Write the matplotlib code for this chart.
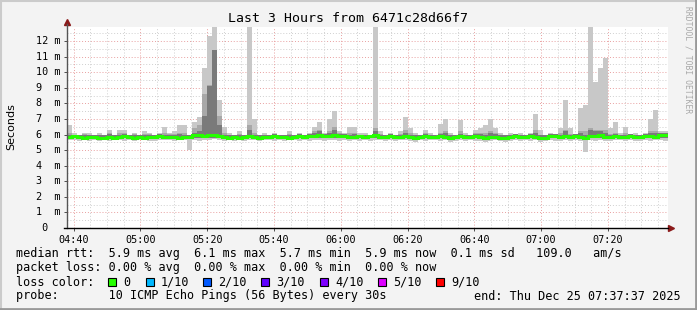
import numpy as np
import matplotlib.pyplot as plt
from matplotlib.patches import Rectangle
from matplotlib.lines import Line2D

# one bin = 1.5 minutes, starting 04:38
bin_minutes = 1.5

smoke_hi = [
    6.6, 6.1, 6.0, 6.1, 6.1, 6.0, 6.1, 6.0, 6.3, 6.0,
    6.3, 6.3, 6.0, 6.1, 6.0, 6.2, 6.1, 6.0, 6.1, 6.5,
    6.1, 6.2, 6.6, 6.6, 6.0, 6.8, 7.1, 10.3, 12.3, 12.9,
    8.2, 6.5, 6.1, 6.0, 6.2, 6.0, 12.9, 7.0, 6.0, 6.1,
    6.0, 6.1, 6.0, 6.0, 6.2, 6.0, 6.1, 6.0, 6.1, 6.5,
    6.8, 6.1, 7.0, 7.5, 6.2, 6.1, 6.5, 6.5, 6.1, 6.1,
    6.0, 12.9, 6.2, 6.0, 6.1, 6.0, 6.2, 7.1, 6.4, 6.1,
    6.0, 6.3, 6.1, 6.0, 6.7, 7.0, 6.1, 6.0, 6.9, 6.1,
    6.0, 6.3, 6.4, 6.6, 7.0, 6.4, 6.1, 6.0, 6.1, 6.0,
    6.1, 6.0, 6.1, 7.3, 6.3, 6.0, 6.1, 6.0, 6.4, 8.2,
    6.4, 6.0, 7.7, 7.9, 12.9, 9.4, 10.3, 10.9, 6.4, 6.8,
    6.1, 6.5, 6.0, 6.1, 6.0, 6.1, 7.0, 7.6, 6.2, 6.2,
]
smoke_lo = [
    5.65, 5.65, 5.60, 5.65, 5.60, 5.65, 5.60, 5.65, 5.60, 5.65,
    5.65, 5.60, 5.65, 5.60, 5.65, 5.65, 5.60, 5.60, 5.65, 5.65,
    5.65, 5.60, 5.65, 5.65, 5.00, 5.65, 5.60, 5.65, 5.65, 5.70,
    5.65, 5.60, 5.65, 5.60, 5.65, 5.60, 5.65, 5.65, 5.60, 5.65,
    5.65, 5.60, 5.65, 5.60, 5.65, 5.65, 5.60, 5.65, 5.60, 5.65,
    5.65, 5.60, 5.65, 5.65, 5.60, 5.65, 5.60, 5.65, 5.60, 5.65,
    5.60, 5.65, 5.65, 5.60, 5.65, 5.60, 5.65, 5.65, 5.60, 5.55,
    5.65, 5.60, 5.65, 5.65, 5.60, 5.65, 5.55, 5.60, 5.65, 5.60,
    5.65, 5.60, 5.60, 5.55, 5.60, 5.65, 5.60, 5.55, 5.60, 5.65,
    5.60, 5.65, 5.60, 5.65, 5.55, 5.60, 5.65, 5.60, 5.60, 5.65,
    5.60, 5.65, 5.60, 4.90, 5.65, 5.60, 5.65, 5.60, 5.60, 5.65,
    5.65, 5.60, 5.65, 5.60, 5.60, 5.65, 5.60, 5.65, 5.65, 5.60,
]
mid_hi = [
    6.1, 6.0, 5.95, 6.05, 6.0, 6.0, 6.0, 6.0, 6.1, 5.95,
    6.1, 6.1, 5.95, 6.05, 5.95, 6.05, 6.05, 5.95, 6.05, 6.1,
    6.05, 6.05, 6.1, 6.1, 5.95, 6.4, 6.6, 8.6, 9.2, 9.6,
    7.2, 6.1, 6.0, 6.0, 6.05, 6.0, 6.6, 6.1, 5.95, 6.0,
    6.0, 6.05, 6.0, 5.95, 6.05, 6.0, 6.05, 6.0, 6.05, 6.2,
    6.3, 6.05, 6.2, 6.5, 6.1, 6.05, 6.1, 6.1, 6.0, 6.0,
    6.0, 6.4, 6.05, 5.95, 6.05, 6.0, 6.05, 6.3, 6.1, 5.95,
    6.0, 6.1, 6.0, 5.95, 6.1, 6.2, 5.95, 6.0, 6.2, 6.0,
    6.0, 6.1, 6.1, 6.1, 6.2, 6.1, 5.95, 5.95, 6.0, 6.05,
    6.0, 6.0, 6.05, 6.3, 6.0, 5.95, 6.05, 6.05, 6.1, 6.3,
    6.05, 6.05, 6.2, 6.2, 6.4, 6.3, 6.3, 6.3, 6.05, 6.1,
    6.0, 6.1, 6.05, 6.0, 6.0, 6.05, 6.2, 6.2, 6.1, 6.1,
]
dark_hi = [
    6.0, 6.0, 5.95, 6.0, 5.95, 6.0, 5.95, 6.0, 6.05, 5.95,
    6.0, 6.05, 5.95, 6.0, 5.95, 6.0, 6.0, 5.95, 6.05, 6.0,
    6.0, 6.0, 6.05, 6.0, 5.95, 6.1, 6.2, 7.2, 9.1, 11.4,
    6.6, 6.0, 5.95, 6.0, 5.95, 6.0, 6.3, 6.0, 5.95, 6.0,
    6.0, 6.05, 6.0, 5.95, 6.0, 6.0, 6.05, 6.0, 6.05, 6.1,
    6.2, 6.05, 6.1, 6.3, 6.05, 6.05, 6.0, 6.05, 6.0, 6.0,
    6.0, 6.2, 6.0, 5.95, 6.05, 6.0, 6.0, 6.1, 6.0, 5.95,
    6.0, 6.05, 6.0, 5.95, 6.05, 6.1, 5.95, 6.0, 6.05, 6.0,
    6.0, 6.05, 6.05, 6.0, 6.1, 6.05, 5.95, 5.95, 6.0, 6.05,
    6.0, 6.0, 6.05, 6.1, 5.95, 5.95, 6.05, 6.05, 6.0, 6.2,
    6.0, 6.05, 6.1, 6.0, 6.3, 6.2, 6.2, 6.1, 6.0, 6.05,
    6.0, 6.0, 6.05, 6.0, 6.0, 6.05, 6.1, 6.1, 6.1, 6.1,
]
dark_lo = [
    5.75, 5.75, 5.70, 5.70, 5.75, 5.70, 5.70, 5.70, 5.75, 5.70,
    5.75, 5.75, 5.70, 5.70, 5.75, 5.70, 5.75, 5.75, 5.75, 5.75,
    5.75, 5.70, 5.70, 5.75, 5.70, 5.80, 5.80, 5.75, 5.80, 5.80,
    5.75, 5.75, 5.70, 5.75, 5.70, 5.75, 5.75, 5.75, 5.70, 5.75,
    5.75, 5.75, 5.75, 5.70, 5.70, 5.75, 5.75, 5.75, 5.75, 5.75,
    5.80, 5.75, 5.75, 5.80, 5.75, 5.75, 5.70, 5.75, 5.75, 5.70,
    5.75, 5.80, 5.70, 5.70, 5.75, 5.70, 5.70, 5.75, 5.70, 5.65,
    5.70, 5.75, 5.70, 5.70, 5.75, 5.70, 5.65, 5.70, 5.75, 5.70,
    5.70, 5.75, 5.70, 5.65, 5.70, 5.70, 5.65, 5.65, 5.70, 5.75,
    5.70, 5.70, 5.75, 5.70, 5.65, 5.65, 5.75, 5.75, 5.70, 5.75,
    5.70, 5.75, 5.70, 5.65, 5.75, 5.75, 5.80, 5.70, 5.70, 5.75,
    5.70, 5.70, 5.75, 5.70, 5.70, 5.75, 5.75, 5.70, 5.80, 5.80,
]
median = [
    5.85, 5.90, 5.85, 5.80, 5.85, 5.85, 5.80, 5.80, 5.85, 5.80,
    5.85, 5.90, 5.85, 5.80, 5.85, 5.80, 5.85, 5.85, 5.90, 5.85,
    5.85, 5.85, 5.80, 5.85, 5.85, 5.95, 5.95, 5.90, 6.00, 5.95,
    5.90, 5.85, 5.80, 5.85, 5.80, 5.85, 5.90, 5.85, 5.80, 5.85,
    5.85, 5.90, 5.85, 5.85, 5.80, 5.85, 5.90, 5.85, 5.90, 5.90,
    5.95, 5.90, 5.90, 5.95, 5.90, 5.90, 5.85, 5.85, 5.90, 5.85,
    5.90, 5.95, 5.85, 5.85, 5.90, 5.85, 5.85, 5.90, 5.85, 5.80,
    5.85, 5.90, 5.85, 5.85, 5.90, 5.85, 5.80, 5.85, 5.90, 5.85,
    5.85, 5.90, 5.85, 5.80, 5.85, 5.85, 5.80, 5.80, 5.85, 5.90,
    5.85, 5.85, 5.90, 5.85, 5.80, 5.80, 5.90, 5.90, 5.85, 5.90,
    5.85, 5.90, 5.85, 5.80, 5.90, 5.90, 5.95, 5.85, 5.85, 5.90,
    5.85, 5.85, 5.90, 5.85, 5.85, 5.90, 5.90, 5.85, 5.95, 5.95,
]

x_tick_pos = [2, 22, 42, 62, 82, 102, 122, 142, 162]
x_tick_labels = ["04:40", "05:00", "05:20", "05:40", "06:00",
                 "06:20", "06:40", "07:00", "07:20"]
y_tick_pos = list(range(0, 13))
y_tick_labels = [" 0"] + [f"{v:<2d} m" for v in range(1, 13)]

loss_labels = ["0", "1/10", "2/10", "3/10", "4/10", "5/10", "9/10"]
loss_colors = ["#26ff00", "#00b8ff", "#0059ff", "#5e00ff", "#7e00ff", "#dd00ff", "#ff0000"]

W, H = 697, 310


def px(x, y):
    return x / W, 1 - y / H


mono = "DejaVu Sans Mono"
fig = plt.figure(figsize=(W / 100, H / 100), dpi=100, facecolor="#f3f3f3")
ax = fig.add_axes([67 / W, (H - 228) / H, 601 / W, 201 / H])
ax.set_facecolor("white")

t = np.arange(len(median)) * bin_minutes
for low, high, col, z in [(smoke_lo, smoke_hi, "#c8c8c8", 2),
                          (dark_lo, mid_hi, "#a8a8a8", 3),
                          (dark_lo, dark_hi, "#7a7a7a", 3.5)]:
    lo = np.array(low)
    hi = np.array(high)
    ax.bar(t, hi - lo, bottom=lo, width=bin_minutes, align="edge", color=col, lw=0, zorder=z)
med = np.array(median + [median[-1]])
ax.plot(np.append(t, t[-1] + bin_minutes), med, drawstyle="steps-post",
        color=loss_colors[0], lw=2.2, zorder=4, solid_joinstyle="miter")

ax.set_xlim(0, 180)
ax.set_ylim(0, 12.9)

# grid
for v in np.arange(0.5, 12.9, 0.5):
    major = abs(v - round(v)) < 1e-6
    ax.axhline(v, color="#e8a0a0" if major else "#cfcfcf", lw=0.7,
               ls=(0, (1, 2)), zorder=1)
for m in np.arange(2, 180, 5):
    major = (m - 2) % 20 == 0
    ax.axvline(m, color="#e8a0a0" if major else "#cfcfcf", lw=0.7,
               ls=(0, (1, 2)), zorder=1)

for s in ax.spines.values():
    s.set_visible(False)
ax.set_xticks(x_tick_pos)
ax.set_xticklabels(x_tick_labels, family=mono, fontsize=7.3)
ax.set_yticks(y_tick_pos)
ax.set_yticklabels([])
ax.tick_params(axis="x", length=2, width=0.6, pad=3, color="#333333")
ax.tick_params(axis="y", length=2, width=0.6, color="#333333")
for v, lab in zip(y_tick_pos, y_tick_labels):
    ax.text(-31 / 601 * 180, v, lab, family=mono, fontsize=7.3,
            ha="left", va="center")

# axes with arrows
fig.add_artist(Line2D([67 / W, 67 / W], [px(0, 228)[1], px(0, 24)[1]], color="#555555", lw=1))
fig.add_artist(Line2D([64 / W, 668 / W], [px(0, 228)[1]] * 2, color="black", lw=1))
ax.plot([0], [13.2], marker="^", color="#8b1a1a", ms=4, clip_on=False, zorder=6)
ax.plot([180.8], [0], marker=">", color="#8b1a1a", ms=4, clip_on=False, zorder=6)

# title, ylabel, watermark
fig.text(*px(348, 19), "Last 3 Hours from 6471c28d66f7", family=mono, fontsize=9.5,
         ha="center", va="center")
fig.text(*px(11, 127), "Seconds", fontsize=8, rotation=90, ha="center", va="center")
fig.text(*px(688, 60), "RRDTOOL / TOBI OETIKER", family=mono, fontsize=5.8,
         rotation=270, ha="center", va="center", color="#a8a8a8")

# legend lines
fs = 8.5
fig.text(*px(16, 254), "median rtt:  5.9 ms avg  6.1 ms max  5.7 ms min  5.9 ms now  0.1 ms sd   109.0   am/s",
         family=mono, fontsize=fs, va="center")
fig.text(*px(16, 268), "packet loss: 0.00 % avg  0.00 % max  0.00 % min  0.00 % now",
         family=mono, fontsize=fs, va="center")
fig.text(*px(16, 282), "loss color:", family=mono, fontsize=fs, va="center")
sq_x = [108, 146, 203, 261, 320, 378, 436]
for xs, lab, col in zip(sq_x, loss_labels, loss_colors):
    fx, fy = px(xs, 286)
    fig.add_artist(Rectangle((fx, fy), 8 / W, 8 / H, facecolor=col, edgecolor="black", lw=0.8))
    fig.text(*px(xs + 15, 282), lab, family=mono, fontsize=fs, va="center")
fig.text(*px(16, 296), "probe:       10 ICMP Echo Pings (56 Bytes) every 30s",
         family=mono, fontsize=fs, va="center")
fig.text(*px(681, 296), "end: Thu Dec 25 07:37:37 2025", family=mono, fontsize=fs,
         va="center", ha="right")

# frame shading
fig.add_artist(Line2D([0, 1], [1 - 0.5 / H] * 2, color="#cbcbcb", lw=1.5))
fig.add_artist(Line2D([0.5 / W] * 2, [0, 1], color="#cbcbcb", lw=1.5))
fig.add_artist(Line2D([0, 1], [1 / H] * 2, color="#999999", lw=2))
fig.add_artist(Line2D([1 - 1 / W] * 2, [0, 1], color="#999999", lw=2))

fig.savefig("out.png", dpi=100, facecolor=fig.get_facecolor())
